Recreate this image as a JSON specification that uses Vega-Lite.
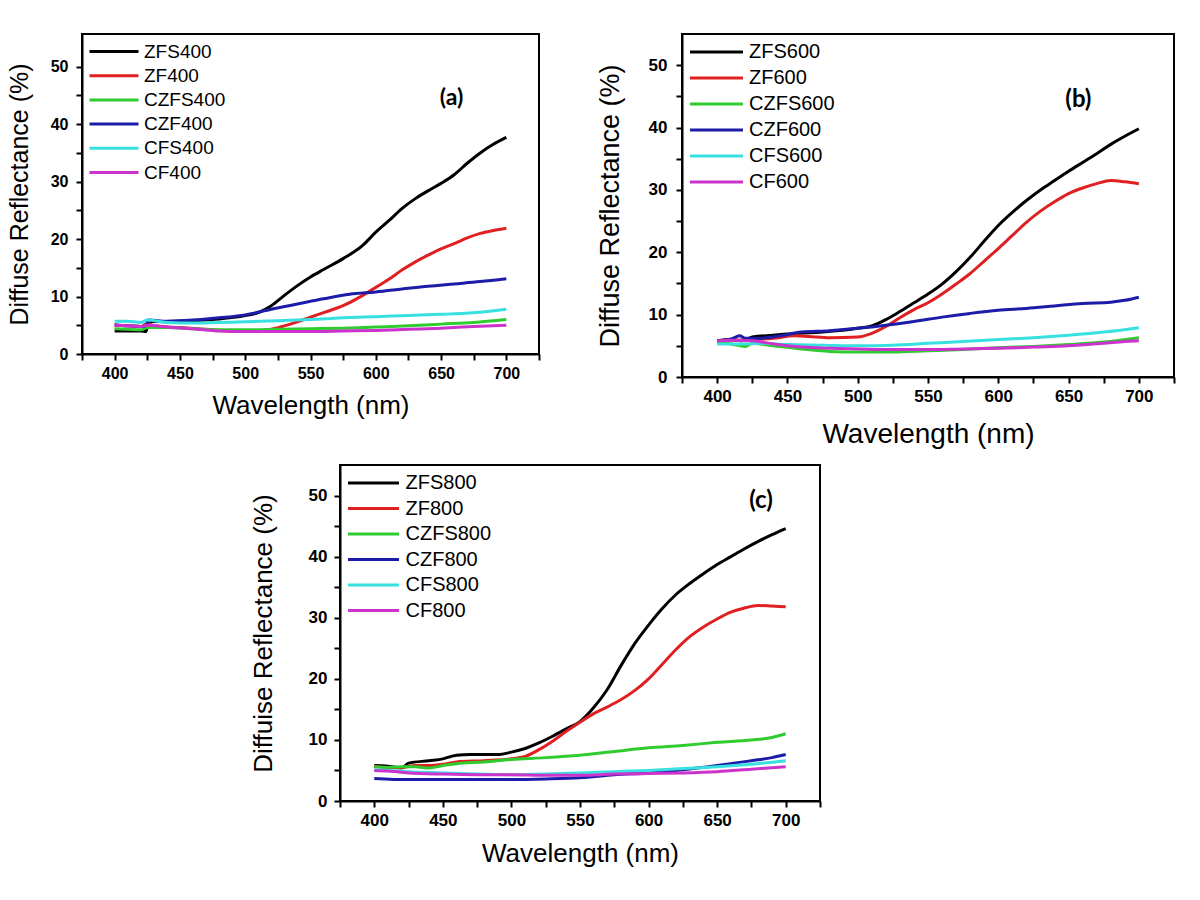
{
"$schema": "https://vega.github.io/schema/vega-lite/v6.json",
"background": "white",
"padding": {"left": 6, "top": 33, "right": 5, "bottom": 5},
"autosize": {"type": "pad"},
"datasets": {
"refl": [
{"p":"a","s":"ZFS400","w":400,"r":4.0},{"p":"a","s":"ZFS400","w":410,"r":4.0},{"p":"a","s":"ZFS400","w":420,"r":4.0},{"p":"a","s":"ZFS400","w":424,"r":3.9},{"p":"a","s":"ZFS400","w":426,"r":5.7},{"p":"a","s":"ZFS400","w":440,"r":5.6},{"p":"a","s":"ZFS400","w":460,"r":5.8},{"p":"a","s":"ZFS400","w":480,"r":6.1},{"p":"a","s":"ZFS400","w":500,"r":6.7},{"p":"a","s":"ZFS400","w":510,"r":7.2},{"p":"a","s":"ZFS400","w":520,"r":8.4},{"p":"a","s":"ZFS400","w":530,"r":10.2},{"p":"a","s":"ZFS400","w":540,"r":11.9},{"p":"a","s":"ZFS400","w":550,"r":13.4},{"p":"a","s":"ZFS400","w":560,"r":14.7},{"p":"a","s":"ZFS400","w":575,"r":16.6},{"p":"a","s":"ZFS400","w":590,"r":18.9},{"p":"a","s":"ZFS400","w":600,"r":21.2},{"p":"a","s":"ZFS400","w":610,"r":23.2},{"p":"a","s":"ZFS400","w":620,"r":25.3},{"p":"a","s":"ZFS400","w":630,"r":27.0},{"p":"a","s":"ZFS400","w":640,"r":28.4},{"p":"a","s":"ZFS400","w":650,"r":29.7},{"p":"a","s":"ZFS400","w":660,"r":31.2},{"p":"a","s":"ZFS400","w":670,"r":33.2},{"p":"a","s":"ZFS400","w":680,"r":35.0},{"p":"a","s":"ZFS400","w":690,"r":36.5},{"p":"a","s":"ZFS400","w":700,"r":37.7},
{"p":"a","s":"ZF400","w":400,"r":5.0},{"p":"a","s":"ZF400","w":410,"r":4.9},{"p":"a","s":"ZF400","w":420,"r":4.8},{"p":"a","s":"ZF400","w":425,"r":5.3},{"p":"a","s":"ZF400","w":430,"r":4.9},{"p":"a","s":"ZF400","w":450,"r":4.6},{"p":"a","s":"ZF400","w":470,"r":4.3},{"p":"a","s":"ZF400","w":490,"r":4.0},{"p":"a","s":"ZF400","w":510,"r":4.0},{"p":"a","s":"ZF400","w":520,"r":4.3},{"p":"a","s":"ZF400","w":530,"r":4.9},{"p":"a","s":"ZF400","w":540,"r":5.6},{"p":"a","s":"ZF400","w":550,"r":6.4},{"p":"a","s":"ZF400","w":560,"r":7.2},{"p":"a","s":"ZF400","w":575,"r":8.4},{"p":"a","s":"ZF400","w":590,"r":10.2},{"p":"a","s":"ZF400","w":600,"r":11.6},{"p":"a","s":"ZF400","w":610,"r":13.0},{"p":"a","s":"ZF400","w":620,"r":14.6},{"p":"a","s":"ZF400","w":630,"r":16.0},{"p":"a","s":"ZF400","w":640,"r":17.2},{"p":"a","s":"ZF400","w":650,"r":18.3},{"p":"a","s":"ZF400","w":660,"r":19.2},{"p":"a","s":"ZF400","w":670,"r":20.2},{"p":"a","s":"ZF400","w":680,"r":21.0},{"p":"a","s":"ZF400","w":690,"r":21.5},{"p":"a","s":"ZF400","w":700,"r":21.9},
{"p":"a","s":"CZFS400","w":400,"r":4.4},{"p":"a","s":"CZFS400","w":410,"r":4.3},{"p":"a","s":"CZFS400","w":420,"r":4.2},{"p":"a","s":"CZFS400","w":425,"r":4.6},{"p":"a","s":"CZFS400","w":440,"r":4.6},{"p":"a","s":"CZFS400","w":460,"r":4.4},{"p":"a","s":"CZFS400","w":480,"r":4.2},{"p":"a","s":"CZFS400","w":500,"r":4.2},{"p":"a","s":"CZFS400","w":525,"r":4.3},{"p":"a","s":"CZFS400","w":550,"r":4.4},{"p":"a","s":"CZFS400","w":575,"r":4.5},{"p":"a","s":"CZFS400","w":600,"r":4.7},{"p":"a","s":"CZFS400","w":625,"r":4.9},{"p":"a","s":"CZFS400","w":650,"r":5.2},{"p":"a","s":"CZFS400","w":675,"r":5.5},{"p":"a","s":"CZFS400","w":700,"r":6.0},
{"p":"a","s":"CZF400","w":400,"r":5.1},{"p":"a","s":"CZF400","w":410,"r":4.9},{"p":"a","s":"CZF400","w":420,"r":4.8},{"p":"a","s":"CZF400","w":424,"r":4.9},{"p":"a","s":"CZF400","w":426,"r":5.9},{"p":"a","s":"CZF400","w":440,"r":5.7},{"p":"a","s":"CZF400","w":460,"r":5.9},{"p":"a","s":"CZF400","w":480,"r":6.3},{"p":"a","s":"CZF400","w":500,"r":6.8},{"p":"a","s":"CZF400","w":520,"r":7.8},{"p":"a","s":"CZF400","w":540,"r":8.7},{"p":"a","s":"CZF400","w":560,"r":9.6},{"p":"a","s":"CZF400","w":580,"r":10.4},{"p":"a","s":"CZF400","w":600,"r":10.8},{"p":"a","s":"CZF400","w":620,"r":11.3},{"p":"a","s":"CZF400","w":640,"r":11.8},{"p":"a","s":"CZF400","w":660,"r":12.2},{"p":"a","s":"CZF400","w":680,"r":12.6},{"p":"a","s":"CZF400","w":700,"r":13.1},
{"p":"a","s":"CFS400","w":400,"r":5.7},{"p":"a","s":"CFS400","w":410,"r":5.7},{"p":"a","s":"CFS400","w":420,"r":5.5},{"p":"a","s":"CFS400","w":425,"r":5.9},{"p":"a","s":"CFS400","w":440,"r":5.5},{"p":"a","s":"CFS400","w":460,"r":5.4},{"p":"a","s":"CFS400","w":480,"r":5.5},{"p":"a","s":"CFS400","w":500,"r":5.6},{"p":"a","s":"CFS400","w":525,"r":5.8},{"p":"a","s":"CFS400","w":550,"r":6.0},{"p":"a","s":"CFS400","w":575,"r":6.3},{"p":"a","s":"CFS400","w":600,"r":6.5},{"p":"a","s":"CFS400","w":625,"r":6.7},{"p":"a","s":"CFS400","w":650,"r":6.9},{"p":"a","s":"CFS400","w":675,"r":7.2},{"p":"a","s":"CFS400","w":700,"r":7.8},
{"p":"a","s":"CF400","w":400,"r":5.0},{"p":"a","s":"CF400","w":410,"r":4.9},{"p":"a","s":"CF400","w":420,"r":4.8},{"p":"a","s":"CF400","w":425,"r":5.0},{"p":"a","s":"CF400","w":440,"r":4.7},{"p":"a","s":"CF400","w":460,"r":4.4},{"p":"a","s":"CF400","w":480,"r":4.0},{"p":"a","s":"CF400","w":500,"r":3.9},{"p":"a","s":"CF400","w":525,"r":3.9},{"p":"a","s":"CF400","w":550,"r":3.9},{"p":"a","s":"CF400","w":575,"r":4.0},{"p":"a","s":"CF400","w":600,"r":4.1},{"p":"a","s":"CF400","w":625,"r":4.3},{"p":"a","s":"CF400","w":650,"r":4.5},{"p":"a","s":"CF400","w":675,"r":4.8},{"p":"a","s":"CF400","w":700,"r":5.0},

{"p":"b","s":"ZFS600","w":400,"r":5.8},{"p":"b","s":"ZFS600","w":410,"r":6.0},{"p":"b","s":"ZFS600","w":418,"r":5.8},{"p":"b","s":"ZFS600","w":425,"r":6.4},{"p":"b","s":"ZFS600","w":440,"r":6.7},{"p":"b","s":"ZFS600","w":450,"r":6.9},{"p":"b","s":"ZFS600","w":475,"r":7.2},{"p":"b","s":"ZFS600","w":500,"r":7.8},{"p":"b","s":"ZFS600","w":510,"r":8.2},{"p":"b","s":"ZFS600","w":520,"r":9.2},{"p":"b","s":"ZFS600","w":530,"r":10.5},{"p":"b","s":"ZFS600","w":540,"r":11.9},{"p":"b","s":"ZFS600","w":550,"r":13.3},{"p":"b","s":"ZFS600","w":560,"r":14.9},{"p":"b","s":"ZFS600","w":570,"r":16.9},{"p":"b","s":"ZFS600","w":580,"r":19.2},{"p":"b","s":"ZFS600","w":590,"r":21.8},{"p":"b","s":"ZFS600","w":600,"r":24.3},{"p":"b","s":"ZFS600","w":610,"r":26.4},{"p":"b","s":"ZFS600","w":620,"r":28.3},{"p":"b","s":"ZFS600","w":630,"r":30.0},{"p":"b","s":"ZFS600","w":640,"r":31.5},{"p":"b","s":"ZFS600","w":650,"r":33.0},{"p":"b","s":"ZFS600","w":660,"r":34.4},{"p":"b","s":"ZFS600","w":670,"r":35.8},{"p":"b","s":"ZFS600","w":680,"r":37.3},{"p":"b","s":"ZFS600","w":690,"r":38.6},{"p":"b","s":"ZFS600","w":700,"r":39.8},
{"p":"b","s":"ZF600","w":400,"r":5.8},{"p":"b","s":"ZF600","w":410,"r":5.9},{"p":"b","s":"ZF600","w":425,"r":6.0},{"p":"b","s":"ZF600","w":440,"r":6.2},{"p":"b","s":"ZF600","w":455,"r":6.6},{"p":"b","s":"ZF600","w":465,"r":6.5},{"p":"b","s":"ZF600","w":480,"r":6.3},{"p":"b","s":"ZF600","w":500,"r":6.4},{"p":"b","s":"ZF600","w":510,"r":7.0},{"p":"b","s":"ZF600","w":520,"r":8.1},{"p":"b","s":"ZF600","w":530,"r":9.5},{"p":"b","s":"ZF600","w":540,"r":10.8},{"p":"b","s":"ZF600","w":550,"r":11.9},{"p":"b","s":"ZF600","w":560,"r":13.3},{"p":"b","s":"ZF600","w":570,"r":14.9},{"p":"b","s":"ZF600","w":580,"r":16.6},{"p":"b","s":"ZF600","w":590,"r":18.6},{"p":"b","s":"ZF600","w":600,"r":20.6},{"p":"b","s":"ZF600","w":610,"r":22.7},{"p":"b","s":"ZF600","w":620,"r":24.8},{"p":"b","s":"ZF600","w":630,"r":26.6},{"p":"b","s":"ZF600","w":640,"r":28.1},{"p":"b","s":"ZF600","w":650,"r":29.4},{"p":"b","s":"ZF600","w":660,"r":30.3},{"p":"b","s":"ZF600","w":670,"r":31.0},{"p":"b","s":"ZF600","w":680,"r":31.5},{"p":"b","s":"ZF600","w":690,"r":31.3},{"p":"b","s":"ZF600","w":700,"r":31.0},
{"p":"b","s":"CZFS600","w":400,"r":5.6},{"p":"b","s":"CZFS600","w":410,"r":5.3},{"p":"b","s":"CZFS600","w":420,"r":4.9},{"p":"b","s":"CZFS600","w":425,"r":5.4},{"p":"b","s":"CZFS600","w":440,"r":5.0},{"p":"b","s":"CZFS600","w":460,"r":4.5},{"p":"b","s":"CZFS600","w":480,"r":4.1},{"p":"b","s":"CZFS600","w":500,"r":4.0},{"p":"b","s":"CZFS600","w":525,"r":4.0},{"p":"b","s":"CZFS600","w":550,"r":4.2},{"p":"b","s":"CZFS600","w":575,"r":4.4},{"p":"b","s":"CZFS600","w":600,"r":4.7},{"p":"b","s":"CZFS600","w":625,"r":4.9},{"p":"b","s":"CZFS600","w":650,"r":5.2},{"p":"b","s":"CZFS600","w":675,"r":5.6},{"p":"b","s":"CZFS600","w":700,"r":6.3},
{"p":"b","s":"CZF600","w":400,"r":5.8},{"p":"b","s":"CZF600","w":410,"r":6.1},{"p":"b","s":"CZF600","w":416,"r":6.6},{"p":"b","s":"CZF600","w":420,"r":6.2},{"p":"b","s":"CZF600","w":430,"r":6.2},{"p":"b","s":"CZF600","w":445,"r":6.6},{"p":"b","s":"CZF600","w":460,"r":7.2},{"p":"b","s":"CZF600","w":480,"r":7.4},{"p":"b","s":"CZF600","w":500,"r":7.8},{"p":"b","s":"CZF600","w":520,"r":8.3},{"p":"b","s":"CZF600","w":540,"r":8.9},{"p":"b","s":"CZF600","w":560,"r":9.6},{"p":"b","s":"CZF600","w":580,"r":10.2},{"p":"b","s":"CZF600","w":600,"r":10.7},{"p":"b","s":"CZF600","w":620,"r":11.0},{"p":"b","s":"CZF600","w":640,"r":11.4},{"p":"b","s":"CZF600","w":660,"r":11.8},{"p":"b","s":"CZF600","w":680,"r":12.0},{"p":"b","s":"CZF600","w":690,"r":12.3},{"p":"b","s":"CZF600","w":700,"r":12.8},
{"p":"b","s":"CFS600","w":400,"r":5.3},{"p":"b","s":"CFS600","w":410,"r":5.3},{"p":"b","s":"CFS600","w":420,"r":5.3},{"p":"b","s":"CFS600","w":430,"r":5.4},{"p":"b","s":"CFS600","w":450,"r":5.2},{"p":"b","s":"CFS600","w":475,"r":5.1},{"p":"b","s":"CFS600","w":500,"r":5.0},{"p":"b","s":"CFS600","w":525,"r":5.1},{"p":"b","s":"CFS600","w":550,"r":5.4},{"p":"b","s":"CFS600","w":575,"r":5.7},{"p":"b","s":"CFS600","w":600,"r":6.0},{"p":"b","s":"CFS600","w":625,"r":6.3},{"p":"b","s":"CFS600","w":650,"r":6.7},{"p":"b","s":"CFS600","w":675,"r":7.2},{"p":"b","s":"CFS600","w":700,"r":7.9},
{"p":"b","s":"CF600","w":400,"r":5.8},{"p":"b","s":"CF600","w":410,"r":5.9},{"p":"b","s":"CF600","w":425,"r":5.8},{"p":"b","s":"CF600","w":440,"r":5.3},{"p":"b","s":"CF600","w":460,"r":4.8},{"p":"b","s":"CF600","w":480,"r":4.6},{"p":"b","s":"CF600","w":500,"r":4.5},{"p":"b","s":"CF600","w":525,"r":4.4},{"p":"b","s":"CF600","w":550,"r":4.4},{"p":"b","s":"CF600","w":575,"r":4.5},{"p":"b","s":"CF600","w":600,"r":4.6},{"p":"b","s":"CF600","w":625,"r":4.8},{"p":"b","s":"CF600","w":650,"r":5.0},{"p":"b","s":"CF600","w":675,"r":5.4},{"p":"b","s":"CF600","w":690,"r":5.7},{"p":"b","s":"CF600","w":700,"r":5.8},

{"p":"c","s":"ZFS800","w":400,"r":5.8},{"p":"c","s":"ZFS800","w":410,"r":5.7},{"p":"c","s":"ZFS800","w":420,"r":5.4},{"p":"c","s":"ZFS800","w":425,"r":6.2},{"p":"c","s":"ZFS800","w":440,"r":6.6},{"p":"c","s":"ZFS800","w":450,"r":6.9},{"p":"c","s":"ZFS800","w":460,"r":7.5},{"p":"c","s":"ZFS800","w":470,"r":7.6},{"p":"c","s":"ZFS800","w":490,"r":7.6},{"p":"c","s":"ZFS800","w":500,"r":8.0},{"p":"c","s":"ZFS800","w":510,"r":8.6},{"p":"c","s":"ZFS800","w":520,"r":9.5},{"p":"c","s":"ZFS800","w":530,"r":10.6},{"p":"c","s":"ZFS800","w":540,"r":11.8},{"p":"c","s":"ZFS800","w":550,"r":13.0},{"p":"c","s":"ZFS800","w":560,"r":15.3},{"p":"c","s":"ZFS800","w":570,"r":18.3},{"p":"c","s":"ZFS800","w":580,"r":22.2},{"p":"c","s":"ZFS800","w":590,"r":25.8},{"p":"c","s":"ZFS800","w":600,"r":28.8},{"p":"c","s":"ZFS800","w":610,"r":31.5},{"p":"c","s":"ZFS800","w":620,"r":33.8},{"p":"c","s":"ZFS800","w":630,"r":35.6},{"p":"c","s":"ZFS800","w":640,"r":37.2},{"p":"c","s":"ZFS800","w":650,"r":38.7},{"p":"c","s":"ZFS800","w":660,"r":40.0},{"p":"c","s":"ZFS800","w":670,"r":41.3},{"p":"c","s":"ZFS800","w":680,"r":42.5},{"p":"c","s":"ZFS800","w":690,"r":43.6},{"p":"c","s":"ZFS800","w":700,"r":44.6},
{"p":"c","s":"ZF800","w":400,"r":5.7},{"p":"c","s":"ZF800","w":410,"r":5.5},{"p":"c","s":"ZF800","w":420,"r":5.5},{"p":"c","s":"ZF800","w":430,"r":5.8},{"p":"c","s":"ZF800","w":440,"r":5.8},{"p":"c","s":"ZF800","w":450,"r":6.0},{"p":"c","s":"ZF800","w":460,"r":6.4},{"p":"c","s":"ZF800","w":480,"r":6.6},{"p":"c","s":"ZF800","w":500,"r":6.9},{"p":"c","s":"ZF800","w":510,"r":7.3},{"p":"c","s":"ZF800","w":520,"r":8.4},{"p":"c","s":"ZF800","w":530,"r":9.8},{"p":"c","s":"ZF800","w":540,"r":11.4},{"p":"c","s":"ZF800","w":550,"r":12.9},{"p":"c","s":"ZF800","w":560,"r":14.3},{"p":"c","s":"ZF800","w":570,"r":15.4},{"p":"c","s":"ZF800","w":580,"r":16.6},{"p":"c","s":"ZF800","w":590,"r":18.1},{"p":"c","s":"ZF800","w":600,"r":20.0},{"p":"c","s":"ZF800","w":610,"r":22.4},{"p":"c","s":"ZF800","w":620,"r":24.8},{"p":"c","s":"ZF800","w":630,"r":26.9},{"p":"c","s":"ZF800","w":640,"r":28.5},{"p":"c","s":"ZF800","w":650,"r":29.8},{"p":"c","s":"ZF800","w":660,"r":30.9},{"p":"c","s":"ZF800","w":670,"r":31.6},{"p":"c","s":"ZF800","w":680,"r":32.0},{"p":"c","s":"ZF800","w":690,"r":31.9},{"p":"c","s":"ZF800","w":700,"r":31.8},
{"p":"c","s":"CZFS800","w":400,"r":5.6},{"p":"c","s":"CZFS800","w":410,"r":5.5},{"p":"c","s":"CZFS800","w":420,"r":5.6},{"p":"c","s":"CZFS800","w":430,"r":5.6},{"p":"c","s":"CZFS800","w":440,"r":5.4},{"p":"c","s":"CZFS800","w":450,"r":5.8},{"p":"c","s":"CZFS800","w":460,"r":6.1},{"p":"c","s":"CZFS800","w":480,"r":6.4},{"p":"c","s":"CZFS800","w":500,"r":6.8},{"p":"c","s":"CZFS800","w":525,"r":7.1},{"p":"c","s":"CZFS800","w":550,"r":7.5},{"p":"c","s":"CZFS800","w":575,"r":8.1},{"p":"c","s":"CZFS800","w":600,"r":8.7},{"p":"c","s":"CZFS800","w":625,"r":9.1},{"p":"c","s":"CZFS800","w":650,"r":9.6},{"p":"c","s":"CZFS800","w":675,"r":10.0},{"p":"c","s":"CZFS800","w":690,"r":10.4},{"p":"c","s":"CZFS800","w":700,"r":11.0},
{"p":"c","s":"CZF800","w":400,"r":3.7},{"p":"c","s":"CZF800","w":425,"r":3.5},{"p":"c","s":"CZF800","w":450,"r":3.5},{"p":"c","s":"CZF800","w":475,"r":3.5},{"p":"c","s":"CZF800","w":500,"r":3.5},{"p":"c","s":"CZF800","w":525,"r":3.6},{"p":"c","s":"CZF800","w":550,"r":3.8},{"p":"c","s":"CZF800","w":575,"r":4.3},{"p":"c","s":"CZF800","w":600,"r":4.6},{"p":"c","s":"CZF800","w":625,"r":5.1},{"p":"c","s":"CZF800","w":650,"r":5.8},{"p":"c","s":"CZF800","w":675,"r":6.6},{"p":"c","s":"CZF800","w":690,"r":7.1},{"p":"c","s":"CZF800","w":700,"r":7.6},
{"p":"c","s":"CFS800","w":400,"r":5.1},{"p":"c","s":"CFS800","w":410,"r":5.0},{"p":"c","s":"CFS800","w":425,"r":4.8},{"p":"c","s":"CFS800","w":450,"r":4.6},{"p":"c","s":"CFS800","w":475,"r":4.4},{"p":"c","s":"CFS800","w":500,"r":4.3},{"p":"c","s":"CFS800","w":525,"r":4.4},{"p":"c","s":"CFS800","w":550,"r":4.6},{"p":"c","s":"CFS800","w":575,"r":4.8},{"p":"c","s":"CFS800","w":600,"r":5.0},{"p":"c","s":"CFS800","w":625,"r":5.3},{"p":"c","s":"CFS800","w":650,"r":5.6},{"p":"c","s":"CFS800","w":675,"r":6.0},{"p":"c","s":"CFS800","w":700,"r":6.6},
{"p":"c","s":"CF800","w":400,"r":5.0},{"p":"c","s":"CF800","w":410,"r":4.9},{"p":"c","s":"CF800","w":425,"r":4.6},{"p":"c","s":"CF800","w":450,"r":4.4},{"p":"c","s":"CF800","w":475,"r":4.3},{"p":"c","s":"CF800","w":500,"r":4.3},{"p":"c","s":"CF800","w":525,"r":4.2},{"p":"c","s":"CF800","w":550,"r":4.2},{"p":"c","s":"CF800","w":575,"r":4.4},{"p":"c","s":"CF800","w":600,"r":4.5},{"p":"c","s":"CF800","w":625,"r":4.6},{"p":"c","s":"CF800","w":650,"r":4.8},{"p":"c","s":"CF800","w":675,"r":5.2},{"p":"c","s":"CF800","w":700,"r":5.6}
]
},
"config": {
  "view": {"stroke": "black", "strokeWidth": 2},
  "axis": {"grid": false, "domainColor": "black", "domainWidth": 2, "tickColor": "black", "tickWidth": 2, "tickSize": 6, "tickCount": 100, "format": "d",
           "labelFont": "Liberation Sans", "labelFontWeight": "bold", "labelColor": "black", "labelFlush": false, "labelOverlap": false,
           "titleFont": "Liberation Sans", "titleFontWeight": "normal", "titleColor": "black"},
  "legend": {"symbolStrokeWidth": 3, "labelFont": "Liberation Sans", "labelColor": "black", "labelLimit": 300, "orient": "none"},
  "line": {"strokeWidth": 3, "interpolate": "monotone"}
},
"spacing": 15,
"resolve": {"scale": {"x": "independent", "y": "independent", "color": "independent"}, "legend": {"color": "independent"}, "axis": {"x": "independent", "y": "independent"}},
"vconcat": [
 {"hconcat": [
     {"width": 457, "height": 320,
      "layer": [
        {"data": {"name": "refl"}, "transform": [{"filter": "datum.p === 'a'"}],
         "mark": {"type": "line"},
         "encoding": {
           "x": {"field": "w", "type": "quantitative", "scale": {"domain": [375, 725], "nice": false, "zero": false},
                 "axis": {"title": "Wavelength (nm)", "format": "d", "values": [375,400,425,450,475,500,525,550,575,600,625,650,675,700,725], "tickCount": 100, "labelExpr": "datum.value % 50 === 0 ? datum.label : ''", "labelFontSize": 16, "labelPadding": 5, "titleFontSize": 26, "titlePadding": 11}},
           "y": {"field": "r", "type": "quantitative", "scale": {"domain": [0, 55.7], "nice": false},
                 "axis": {"title": "Diffuse Reflectance (%)", "format": "d", "values": [0,5,10,15,20,25,30,35,40,45,50], "tickCount": 100, "labelExpr": "datum.value % 10 === 0 ? datum.label : ''", "labelFontSize": 16, "labelPadding": 8, "titleFontSize": 25, "titlePadding": 18}},
           "color": {"field": "s", "type": "nominal", "sort": null,
                     "scale": {"domain": ["ZFS400","ZF400","CZFS400","CZF400","CFS400","CF400"], "range": ["#000000","#e02020","#2ecc2e","#1c1ca8","#38e0e0","#cc33cc"]},
                     "legend": {"title": null, "legendX": 22.5, "legendY": 8, "labelFontSize": 19, "symbolType": "M-4.9,0H4.9", "symbolSize": 100, "rowPadding": 4.2, "labelOffset": 20.5}}
         }},
        {"data": {"values": [{}]}, "mark": {"type": "text", "font": "Lato", "fontWeight": "bold", "fontSize": 23, "color": "black"},
         "encoding": {"x": {"datum": 658}, "y": {"datum": 44.5}, "text": {"value": "(a)"}}}
      ]},
   {"width": 492, "height": 343,
    "layer": [
      {"data": {"name": "refl"}, "transform": [{"filter": "datum.p === 'b'"}],
       "mark": {"type": "line"},
       "encoding": {
         "x": {"field": "w", "type": "quantitative", "scale": {"domain": [375, 725], "nice": false, "zero": false},
               "axis": {"title": "Wavelength (nm)", "format": "d", "values": [375,400,425,450,475,500,525,550,575,600,625,650,675,700,725], "tickCount": 100, "labelExpr": "datum.value % 50 === 0 ? datum.label : ''", "labelFontSize": 17, "labelPadding": 5, "titleFontSize": 28, "titlePadding": 16}},
         "y": {"field": "r", "type": "quantitative", "scale": {"domain": [0, 55], "nice": false},
               "axis": {"title": "Diffuse Reflectance (%)", "format": "d", "values": [0,5,10,15,20,25,30,35,40,45,50], "tickCount": 100, "labelExpr": "datum.value % 10 === 0 ? datum.label : ''", "labelFontSize": 17, "labelPadding": 9, "titleFontSize": 27, "titlePadding": 24}},
         "color": {"field": "s", "type": "nominal", "sort": null,
                   "scale": {"domain": ["ZFS600","ZF600","CZFS600","CZF600","CFS600","CF600"], "range": ["#000000","#e02020","#2ecc2e","#1c1ca8","#38e0e0","#cc33cc"]},
                   "legend": {"title": null, "legendX": 24.5, "legendY": 8, "labelFontSize": 20, "symbolType": "M-5.3,0H5.3", "symbolSize": 100, "rowPadding": 6, "labelOffset": 22.5}}
       }},
      {"data": {"values": [{}]}, "mark": {"type": "text", "font": "Lato", "fontWeight": "bold", "fontSize": 24, "color": "black"},
       "encoding": {"x": {"datum": 657}, "y": {"datum": 44.4}, "text": {"value": "(b)"}}}
    ]}
 ], "spacing": 143, "bounds": "flush", "resolve": {"scale": {"x": "independent", "y": "independent", "color": "independent"}, "legend": {"color": "independent"}}},
 {"hconcat": [
   {"data": {"values": [{}]}, "width": 248, "height": 10, "mark": {"type": "rect", "opacity": 0}, "encoding": {}, "view": {"stroke": null}},
   {"width": 480, "height": 336,
    "layer": [
      {"data": {"name": "refl"}, "transform": [{"filter": "datum.p === 'c'"}],
       "mark": {"type": "line"},
       "encoding": {
         "x": {"field": "w", "type": "quantitative", "scale": {"domain": [375, 725], "nice": false, "zero": false},
               "axis": {"title": "Wavelength (nm)", "format": "d", "values": [375,400,425,450,475,500,525,550,575,600,625,650,675,700,725], "tickCount": 100, "labelExpr": "datum.value % 50 === 0 ? datum.label : ''", "labelFontSize": 17, "labelPadding": 5, "titleFontSize": 26, "titlePadding": 12.5}},
         "y": {"field": "r", "type": "quantitative", "scale": {"domain": [0, 55], "nice": false},
               "axis": {"title": "Diffuise Reflectance (%)", "format": "d", "values": [0,5,10,15,20,25,30,35,40,45,50], "tickCount": 100, "labelExpr": "datum.value % 10 === 0 ? datum.label : ''", "labelFontSize": 17, "labelPadding": 7, "titleFontSize": 26, "titlePadding": 32}},
         "color": {"field": "s", "type": "nominal", "sort": null,
                   "scale": {"domain": ["ZFS800","ZF800","CZFS800","CZF800","CFS800","CF800"], "range": ["#000000","#e02020","#2ecc2e","#1c1ca8","#38e0e0","#cc33cc"]},
                   "legend": {"title": null, "legendX": 23.5, "legendY": 8, "labelFontSize": 20, "symbolType": "M-5.1,0H5.1", "symbolSize": 100, "rowPadding": 5.5, "labelOffset": 22}}
       }},
      {"data": {"values": [{}]}, "mark": {"type": "text", "font": "Lato", "fontWeight": "bold", "fontSize": 24, "color": "black"},
       "encoding": {"x": {"datum": 682}, "y": {"datum": 49.1}, "text": {"value": "(c)"}}}
    ]}
 ], "spacing": 10, "bounds": "flush", "resolve": {"scale": {"color": "independent"}, "legend": {"color": "independent"}}}
]
}
